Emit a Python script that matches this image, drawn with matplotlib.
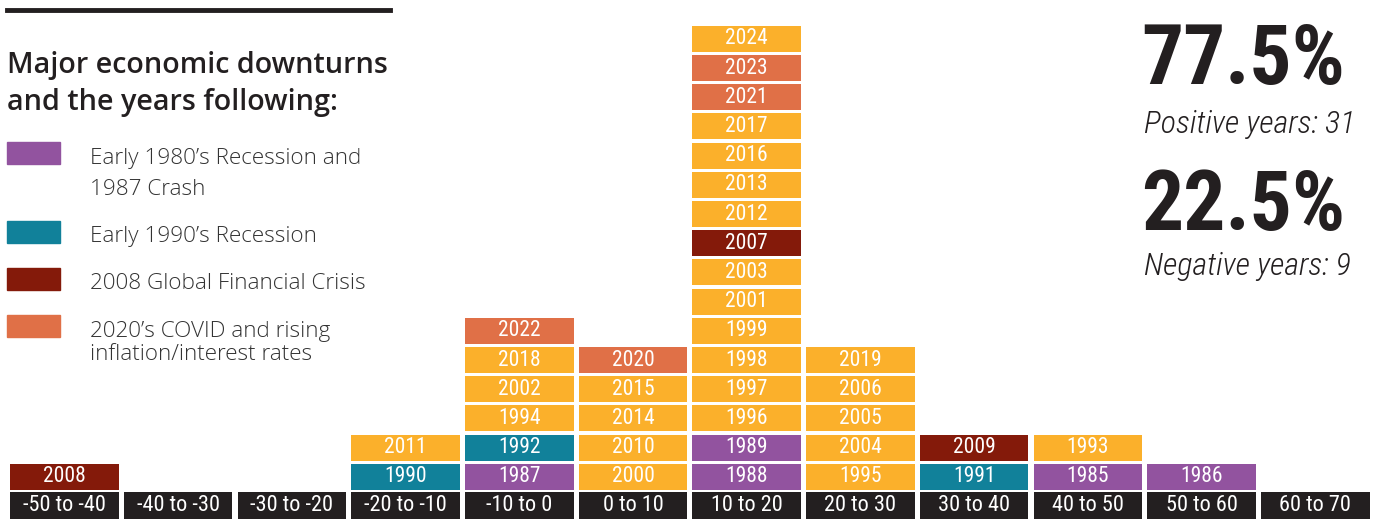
import matplotlib
matplotlib.use("Agg")
import matplotlib.pyplot as plt
from matplotlib import font_manager as fm

# return ranges (%) and the years that fell in each, bottom to top
bins = ['-50 to -40', '-40 to -30', '-30 to -20', '-20 to -10', '-10 to 0', '0 to 10',
        '10 to 20', '20 to 30', '30 to 40', '40 to 50', '50 to 60', '60 to 70']
years_by_bin = [
    [2008],
    [],
    [],
    [1990, 2011],
    [1987, 1992, 1994, 2002, 2018, 2022],
    [2000, 2010, 2014, 2015, 2020],
    [1988, 1989, 1996, 1997, 1998, 1999, 2001, 2003, 2007, 2012, 2013, 2016, 2017, 2021, 2023, 2024],
    [1995, 2004, 2005, 2006, 2019],
    [1991, 2009],
    [1985, 1993],
    [1986],
    [],
]

# downturn groups
early_80s = [1985, 1986, 1987, 1988, 1989]
early_90s = [1990, 1991, 1992]
gfc = [2007, 2008, 2009]
covid = [2020, 2021, 2022, 2023]

legend_labels = ["Early 1980\u2019s Recession and\n1987 Crash", "Early 1990\u2019s Recession",
                 "2008 Global Financial Crisis", "2020\u2019s COVID and rising\ninflation/interest rates"]

c_purple = '#92539f'
c_teal = '#11819a'
c_red = '#841a0a'
c_coral = '#e07047'
c_gold = '#fbb02b'
c_dark = '#231f20'

names = {f.name for f in fm.fontManager.ttflist}
narrow = [n for n in ['Roboto Condensed', 'Archivo Narrow', 'Liberation Sans Narrow', 'Liberation Sans']
          if n in names][:1] + ['DejaVu Sans']
sans = ['Open Sans', 'DejaVu Sans']


def year_color(y):
    if y in early_80s:
        return c_purple
    if y in early_90s:
        return c_teal
    if y in gfc:
        return c_red
    if y in covid:
        return c_coral
    return c_gold


W, H = 1377, 519
fig = plt.figure(figsize=(W / 100, H / 100), dpi=100)
ax = fig.add_axes([0, 0, 1, 1])
ax.set_xlim(-0.567, 11.543)
ax.set_ylim(-1.0, H / 29.2 - 1.0)
ax.axis('off')

bw = 0.955
bh = 0.89
for i, lab in enumerate(bins):
    ax.bar(i, 0.92, bottom=-1.0, width=bw, color=c_dark, align='center')
    ax.text(i, -0.53, lab, ha='center', va='center', color='white', fontsize=16,
            family=narrow)
    for k, yr in enumerate(years_by_bin[i]):
        ax.bar(i, bh, bottom=k, width=bw, color=year_color(yr), align='center')
        ax.text(i, k + bh / 2, str(yr), ha='center', va='center', color='white',
                fontsize=15.5, family=narrow)


def fy(p):
    return 1 - p / H


# left panel
fig.add_artist(plt.Line2D([7 / W, 390 / W], [fy(10), fy(10)], color=c_dark, lw=3.5))
fig.text(7 / W, fy(73), "Major economic downturns", fontsize=20.7, fontweight='semibold',
         family=sans, color=c_dark, va='baseline')
fig.text(7 / W, fy(110), "and the years following:", fontsize=20.7, fontweight='semibold',
         family=sans, color=c_dark, va='baseline')

patch_tops = [142, 221, 268, 315]
text_tops = [148, 226, 273, 321]
for col, top, tt, lab in zip([c_purple, c_teal, c_red, c_coral], patch_tops, text_tops, legend_labels):
    fig.add_artist(plt.Rectangle((7 / W, fy(top + 22)), 53 / W, 22 / H, color=col))
    fig.text(90 / W, fy(tt), lab, fontsize=16.2, fontweight='light',
             family=sans, color='#333333', va='top',
             linespacing=1.62 if lab.startswith('Early 1980') else 1.1)

# right stats
fig.text(1141 / W, fy(84), "77.5%", fontsize=60, fontweight='bold', family=narrow,
         color=c_dark, va='baseline')
fig.text(1144 / W, fy(133), "Positive years: 31", fontsize=23, style='italic', fontweight='light',
         family=narrow, color=c_dark, va='baseline')
fig.text(1141 / W, fy(230), "22.5%", fontsize=60, fontweight='bold', family=narrow,
         color=c_dark, va='baseline')
fig.text(1144 / W, fy(275), "Negative years: 9", fontsize=23, style='italic', fontweight='light',
         family=narrow, color=c_dark, va='baseline')

fig.savefig('out.png', dpi=100)
